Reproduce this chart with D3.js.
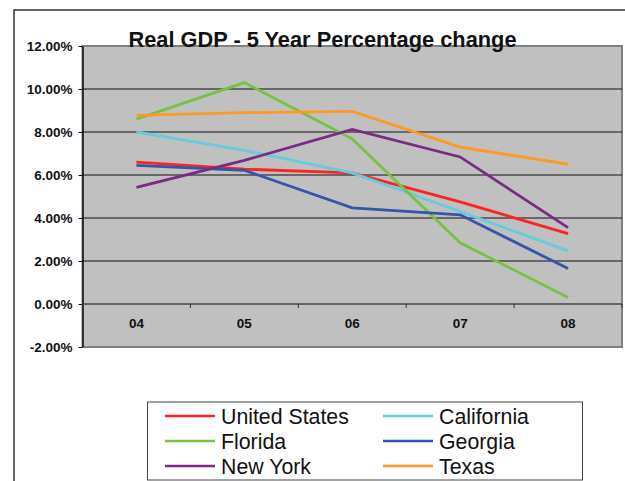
<!DOCTYPE html>
<html>
<head>
<meta charset="utf-8">
<script src="https://cdn.jsdelivr.net/npm/d3@7"></script>
<style>
  body { margin: 0; background: #fff; }
  svg { display: block; font-family: "Liberation Sans", Arial, sans-serif; }
</style>
</head>
<body>
<svg id="chart"></svg>
<script>
// years on the x axis
const years = ['04', '05', '06', '07', '08'];
const yTicks = [-2, 0, 2, 4, 6, 8, 10, 12];

// percentages
const unitedStates = [6.6, 6.27, 6.1, 4.75, 3.27];
const california = [8.0, 7.15, 6.1, 4.3, 2.47];
const florida = [8.6, 10.3, 7.68, 2.85, 0.3];
const georgia = [6.45, 6.22, 4.47, 4.15, 1.65];
const newYork = [5.42, 6.68, 8.12, 6.84, 3.55];
const texas = [8.77, 8.9, 8.96, 7.3, 6.5];

const seriesNames = ['United States', 'California', 'Florida', 'Georgia', 'New York', 'Texas'];
const seriesColors = ['#ff2222', '#66ccdd', '#77c244', '#3355aa', '#7a2a85', '#ff9922'];

const series = [unitedStates, california, florida, georgia, newYork, texas].map((v, i) => ({
    name: seriesNames[i],
    color: seriesColors[i],
    values: v
}));

const width = 625, height = 481;
const margin = { top: 46, right: 2, bottom: 134, left: 82.5 };
const innerW = width - margin.left - margin.right;
const innerH = height - margin.top - margin.bottom;

const svg = d3.select('#chart')
    .attr('width', width)
    .attr('height', height);

// outer chart frame
svg.append('rect')
    .attr('x', 14).attr('y', 10)
    .attr('width', width + 20).attr('height', height + 20)
    .attr('fill', 'none')
    .attr('stroke', '#333')
    .attr('stroke-width', 1.5);

const chart = svg.append('g')
    .attr('transform', `translate(${margin.left},${margin.top})`);

const x = d3.scaleBand().domain(years).range([0, innerW - 1]);
const y = d3.scaleLinear().domain([-2, 12]).range([innerH, 0]);

// plot background with a grey shadow border
chart.append('rect')
    .attr('x', 0).attr('y', 0)
    .attr('width', innerW - 1).attr('height', innerH)
    .attr('fill', '#c0c0c0')
    .attr('stroke', '#808080')
    .attr('stroke-width', 2);

// gridlines
chart.append('g')
    .selectAll('line')
    .data(yTicks.filter(d => d > 0 && d < 12))
    .join('line')
    .attr('x1', 0).attr('x2', innerW - 1)
    .attr('y1', d => y(d)).attr('y2', d => y(d))
    .attr('stroke', '#111')
    .attr('stroke-width', 1);

// y axis
const yAxis = d3.axisLeft(y)
    .tickValues(yTicks)
    .tickSize(4)
    .tickSizeOuter(0)
    .tickPadding(6)
    .tickFormat(d => d.toFixed(2) + '%');

const yAxisG = chart.append('g').call(yAxis);
yAxisG.select('.domain').attr('stroke', '#111').attr('stroke-width', 1.5);
yAxisG.selectAll('.tick line').attr('stroke', '#111');
yAxisG.selectAll('.tick text')
    .attr('font-size', 13.5)
    .attr('font-weight', 'bold')
    .attr('fill', '#111');

// x axis at zero, ticks between categories
const zeroY = y(0);
chart.append('line')
    .attr('x1', 0).attr('x2', innerW - 1)
    .attr('y1', zeroY).attr('y2', zeroY)
    .attr('stroke', '#444')
    .attr('stroke-width', 1.5);

chart.append('g')
    .selectAll('line')
    .data(years.slice(1).concat(['end']))
    .join('line')
    .attr('x1', (d, i) => x(years[0]) + (i + 1) * x.step())
    .attr('x2', (d, i) => x(years[0]) + (i + 1) * x.step())
    .attr('y1', zeroY).attr('y2', zeroY + 4)
    .attr('stroke', '#333');

chart.append('g')
    .selectAll('text')
    .data(years)
    .join('text')
    .attr('x', d => x(d) + x.bandwidth() / 2)
    .attr('y', zeroY + 24)
    .attr('text-anchor', 'middle')
    .attr('font-size', 13.5)
    .attr('font-weight', 'bold')
    .attr('fill', '#111')
    .text(d => d);

// lines
const line = d3.line()
    .x((d, i) => x(years[i]) + x.bandwidth() / 2)
    .y(d => y(d));

chart.append('g')
    .selectAll('path')
    .data(series)
    .join('path')
    .attr('d', d => line(d.values))
    .attr('fill', 'none')
    .attr('stroke', d => d.color)
    .attr('stroke-width', 2.8);

// title
svg.append('text')
    .attr('x', 322.5)
    .attr('y', 47)
    .attr('text-anchor', 'middle')
    .attr('font-size', 21.8)
    .attr('font-weight', 'bold')
    .attr('fill', '#111')
    .text('Real GDP - 5 Year Percentage change');

// legend
const legend = svg.append('g');
legend.append('rect')
    .attr('x', 147.5).attr('y', 402)
    .attr('width', 435).attr('height', 78)
    .attr('fill', '#fff')
    .attr('stroke', '#444')
    .attr('stroke-width', 1);

const items = legend.selectAll('g')
    .data(series)
    .join('g')
    .attr('transform', (d, i) => `translate(${i % 2 === 0 ? 165 : 383},${416 + Math.floor(i / 2) * 25})`);

items.append('line')
    .attr('x1', 0).attr('x2', 50)
    .attr('stroke', d => d.color)
    .attr('stroke-width', 2.5);

items.append('text')
    .attr('x', 56)
    .attr('y', 7.5)
    .attr('font-size', 21.3)
    .attr('fill', '#111')
    .text(d => d.name);
</script>
</body>
</html>
